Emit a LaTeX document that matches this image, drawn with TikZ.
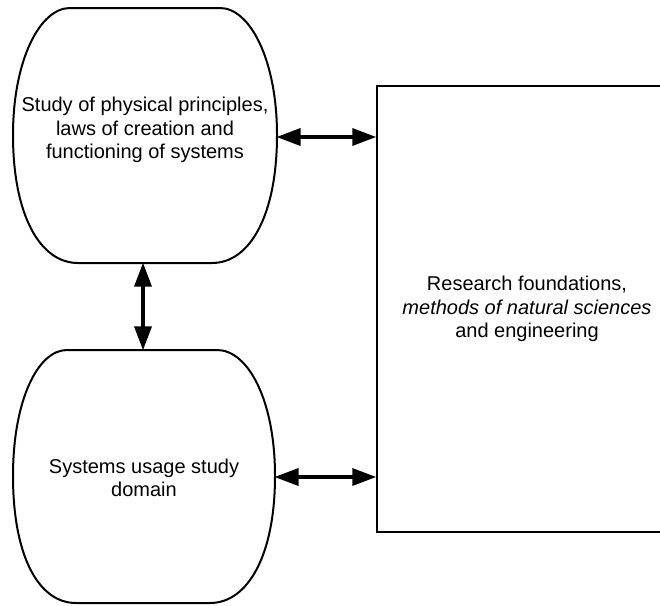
\documentclass[tikz,border=0pt]{standalone}
\usepackage{fontspec}
\setmainfont{Liberation Sans}
\usetikzlibrary{arrows.meta}
\begin{document}
\begin{tikzpicture}[x=1pt,y=-1pt,
  lbl/.style={font=\fontsize{20}{23.5}\selectfont, align=center, inner sep=0pt},
  outline/.style={line width=2pt, line join=round},
  link/.style={line width=3.5pt, {Triangle[length=24pt,width=17pt]}-{Triangle[length=24pt,width=17pt]}, shorten <=-0.5pt, shorten >=-0.5pt}]
  \clip (0,0) rectangle (660,605);
  \fill[white] (0,0) rectangle (660,605);

  % barrel-shaped block: physical principles
  \draw[outline] (70,8) -- (220,8)
    .. controls (250,8) and (277,60) .. (277,135)
    .. controls (277,215) and (250,263) .. (212,263)
    -- (78,263)
    .. controls (40,263) and (13,215) .. (13,135)
    .. controls (13,60) and (40,8) .. (70,8) -- cycle;
  \node[lbl, minimum width=264pt, minimum height=255pt] (phys) at (145,135.5) {};
  \node[lbl] (physT) at (145,130) {Study of physical principles,\\laws of creation and\\functioning of systems};

  % barrel-shaped block: usage domain
  \draw[outline] (67,350) -- (217,350)
    .. controls (248,350) and (275,400) .. (275,476)
    .. controls (275,555) and (248,603) .. (210,603)
    -- (76,603)
    .. controls (38,603) and (13,555) .. (13,476)
    .. controls (13,400) and (38,350) .. (67,350) -- cycle;
  \node[lbl, minimum width=262pt, minimum height=253pt] (usage) at (144,476.5) {};
  \node[lbl] (usageT) at (144,478) {Systems usage study\\domain};

  % research foundations block (runs off the right side)
  \node[draw, line width=2.5pt, minimum width=310pt, minimum height=446pt, inner sep=0pt]
    (res) at (532,309) {};
  \node[lbl] (resT) at (527,309) {Research foundations,\\\itshape methods of natural sciences\\and engineering};

  % two-way links
  \draw[link] (phys.south -| 143,0) -- (usage.north -| 143,0);
  \coordinate (a1) at (277,137);
  \coordinate (a2) at (275,477);
  \draw[link] (a1) -- (a1 -| res.west);
  \draw[link] (a2) -- (a2 -| res.west);
\end{tikzpicture}
\end{document}
